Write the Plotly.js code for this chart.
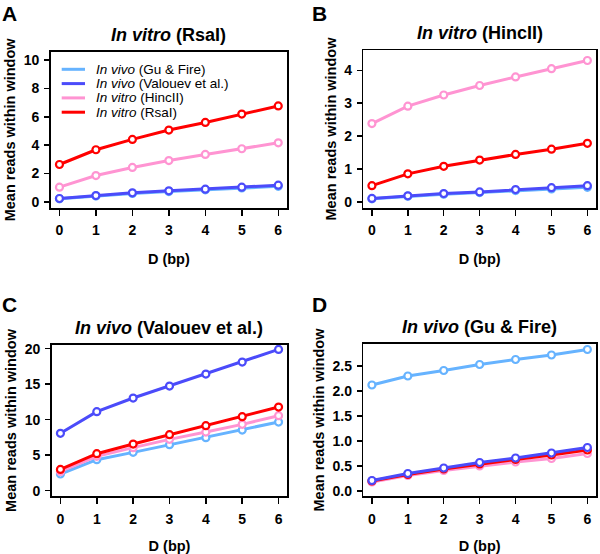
<!DOCTYPE html>
<html><head><meta charset="utf-8">
<script src="https://cdn.plot.ly/plotly-3.0.1.min.js"></script>
<style>body{margin:0;background:#fff}#chart{width:600px;height:554px}</style>
</head><body><div id="chart"></div>
<script>
// ---- data ----
const D_bp = [0, 1, 2, 3, 4, 5, 6];
const seriesNames = ['<i>In vivo</i> (Gu &amp; Fire)', '<i>In vivo</i> (Valouev et al.)', '<i>In vitro</i> (HincII)', '<i>In vitro</i> (RsaI)'];
const seriesColors = ['#66B3FF', '#4B4BFA', '#FF94D2', '#FF0000'];
const panelTitles = ['<b><i>In vitro</i> (RsaI)</b>', '<b><i>In vitro</i> (HincII)</b>', '<b><i>In vivo</i> (Valouev et al.)</b>', '<b><i>In vivo</i> (Gu &amp; Fire)</b>'];
const panelLetters = ['A', 'B', 'C', 'D'];

// Panel A: In vitro (RsaI)
const A_gu      = [0.22, 0.42, 0.60, 0.73, 0.85, 0.98, 1.10];
const A_valouev = [0.24, 0.45, 0.64, 0.78, 0.90, 1.04, 1.18];
const A_hincII  = [1.04, 1.86, 2.43, 2.92, 3.35, 3.75, 4.17];
const A_rsaI    = [2.64, 3.68, 4.41, 5.07, 5.61, 6.20, 6.77];
// Panel B: In vitro (HincII)
const B_gu      = [0.09, 0.17, 0.23, 0.28, 0.34, 0.39, 0.44];
const B_valouev = [0.10, 0.18, 0.25, 0.30, 0.37, 0.43, 0.49];
const B_hincII  = [2.38, 2.91, 3.25, 3.54, 3.80, 4.05, 4.30];
const B_rsaI    = [0.49, 0.85, 1.08, 1.27, 1.44, 1.60, 1.78];
// Panel C: In vivo (Valouev et al.)
const C_gu      = [2.35, 4.37, 5.40, 6.48, 7.46, 8.54, 9.67];
const C_valouev = [8.08, 11.13, 13.05, 14.74, 16.43, 18.12, 19.90];
const C_hincII  = [2.72, 4.84, 6.06, 7.23, 8.26, 9.34, 10.56];
const C_rsaI    = [3.00, 5.21, 6.57, 7.89, 9.15, 10.42, 11.78];
// Panel D: In vivo (Gu & Fire)
const Dp_gu      = [2.12, 2.30, 2.41, 2.53, 2.63, 2.72, 2.83];
const Dp_valouev = [0.21, 0.35, 0.46, 0.57, 0.66, 0.76, 0.87];
const Dp_hincII  = [0.18, 0.31, 0.41, 0.50, 0.58, 0.65, 0.75];
const Dp_rsaI    = [0.20, 0.33, 0.44, 0.54, 0.63, 0.72, 0.82];

const yTicksA = [0, 2, 4, 6, 8, 10];
const yTicksB = [0, 1, 2, 3, 4];
const yTicksC = [0, 5, 10, 15, 20];
const yTicksD = [0, 0.5, 1, 1.5, 2, 2.5];

// ---- build ----
const panels = [
  {data: [A_gu, A_valouev, A_hincII, A_rsaI], yticks: yTicksA, yrange: [-0.43, 10.6], fmt: ''},
  {data: [B_gu, B_valouev, B_hincII, B_rsaI], yticks: yTicksB, yrange: [-0.19, 4.62], fmt: ''},
  {data: [C_gu, C_valouev, C_hincII, C_rsaI], yticks: yTicksC, yrange: [-0.79, 20.56], fmt: ''},
  {data: [Dp_gu, Dp_valouev, Dp_hincII, Dp_rsaI], yticks: yTicksD, yrange: [-0.106, 2.946], fmt: '.1f'}
];
const drawOrder = [0, 2, 3, 1];
const W = 600, H = 554;
const boxes = [ // left, right, top, bottom in px
  [50.7, 287, 51.7, 208],
  [363.3, 596, 50, 208],
  [51.7, 287.3, 344.7, 496.3],
  [363.3, 596, 343.7, 496.3]
];
const FONT = 'Liberation Sans, Arial, Helvetica, sans-serif';
const traces = [];
const layout = {
  width: W, height: H, margin: {l: 0, r: 0, t: 0, b: 0},
  paper_bgcolor: '#fff', plot_bgcolor: '#fff',
  font: {family: FONT, color: '#000'},
  showlegend: false,
  annotations: [], shapes: []
};

panels.forEach((p, i) => {
  const ax = i === 0 ? '' : String(i + 1);
  const [l, r, t, b] = boxes[i];
  drawOrder.forEach(s => {
    traces.push({
      x: D_bp, y: p.data[s], xaxis: 'x' + ax, yaxis: 'y' + ax, type: 'scatter', mode: 'lines',
      line: {color: seriesColors[s], width: 3}, name: seriesNames[s], hoverinfo: 'skip'
    });
    traces.push({
      x: D_bp, y: p.data[s], xaxis: 'x' + ax, yaxis: 'y' + ax, type: 'scatter', mode: 'markers',
      marker: {symbol: 'circle', size: 7, color: '#fff', line: {color: seriesColors[s], width: 2.2}},
      name: seriesNames[s]
    });
  });
  layout['xaxis' + ax] = {
    domain: [l / W, r / W], anchor: 'y' + ax, range: [-0.24, 6.24],
    tickvals: D_bp, ticks: 'outside', ticklen: 6, tickwidth: 1.5, tickcolor: '#000',
    showline: true, mirror: true, linewidth: 1.5, linecolor: '#000',
    showgrid: false, zeroline: false, automargin: false, ticklabelstandoff: 3,
    tickfont: {size: 14, weight: 'bold', family: FONT},
    title: {text: '<b>D (bp)</b>', font: {size: 14.5, family: FONT}, standoff: 16}
  };
  layout['yaxis' + ax] = {
    domain: [1 - b / H, 1 - t / H], anchor: 'x' + ax, range: p.yrange,
    tickvals: p.yticks, tickformat: p.fmt, ticks: 'outside', ticklen: 5, tickwidth: 1.5, tickcolor: '#000',
    showline: true, mirror: true, linewidth: 1.5, linecolor: '#000',
    showgrid: false, zeroline: false, automargin: false, ticklabelstandoff: 2,
    tickfont: {size: 14, weight: 'bold', family: FONT},
    title: {text: '<b>Mean reads within window</b>', font: {size: 14.5, family: FONT}, standoff: 4}
  };
  layout.annotations.push({
    text: panelTitles[i], xref: 'paper', yref: 'paper', x: (l + r) / 2 / W,
    y: 1 - (t - 16.5) / H, xanchor: 'center', yanchor: 'middle', showarrow: false,
    font: {size: 18, family: FONT}
  });
  layout.annotations.push({
    text: '<b>' + panelLetters[i] + '</b>', xref: 'paper', yref: 'paper',
    x: (i % 2 === 0 ? 0 : 310) / W, y: 1 - (i < 2 ? 13 : 304) / H,
    xanchor: 'left', yanchor: 'middle', showarrow: false,
    font: {size: 21, family: FONT}
  });
});

// legend (inside panel A, R-style, no box)
const legTop = 69.3, legStep = 14.3, legX0 = 61.7, legX1 = 85, legTx = 94;
seriesNames.forEach((nm, k) => {
  const yy = 1 - (legTop + k * legStep) / H;
  layout.shapes.push({type: 'line', xref: 'paper', yref: 'paper',
    x0: legX0 / W, x1: legX1 / W, y0: yy, y1: yy, line: {color: seriesColors[k], width: 3}});
  layout.annotations.push({text: nm, xref: 'paper', yref: 'paper', x: legTx / W, y: yy,
    xanchor: 'left', yanchor: 'middle', showarrow: false, font: {size: 13.5, family: FONT}});
});

Plotly.newPlot('chart', traces, layout, {displayModeBar: false, staticPlot: true});
</script>
</body></html>
